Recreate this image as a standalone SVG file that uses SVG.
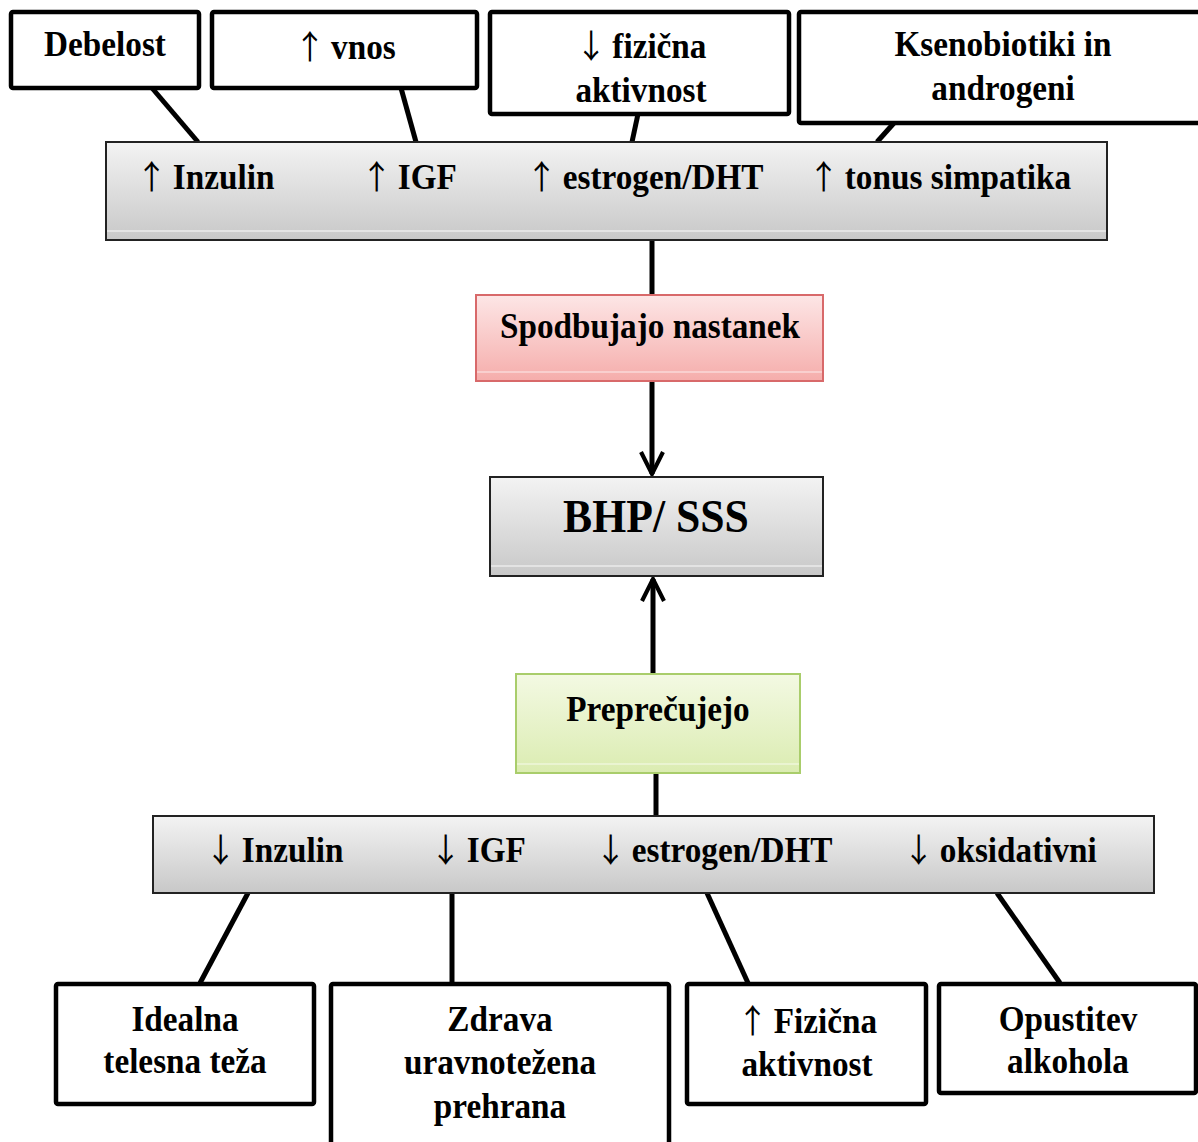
<svg xmlns="http://www.w3.org/2000/svg" width="1198" height="1142" viewBox="0 0 1198 1142">
<defs>
<linearGradient id="gGray" x1="0" y1="0" x2="0" y2="1">
<stop offset="0" stop-color="#f3f3f3"/>
<stop offset="1" stop-color="#c8c8c8"/>
</linearGradient>
<linearGradient id="gPink" x1="0" y1="0" x2="0" y2="1">
<stop offset="0" stop-color="#fde6e6"/>
<stop offset="1" stop-color="#f5adab"/>
</linearGradient>
<linearGradient id="gGreen" x1="0" y1="0" x2="0" y2="1">
<stop offset="0" stop-color="#f3f9e3"/>
<stop offset="1" stop-color="#dbecb1"/>
</linearGradient>
<marker id="chev" viewBox="0 0 10 10" refX="9" refY="5" markerWidth="5.5" markerHeight="5.5" markerUnits="strokeWidth" orient="auto">
<path d="M1,1 L9,5 L1,9" fill="none" stroke="#000" stroke-width="1.5"/>
</marker>
</defs>
<style>
text{font-family:"Liberation Serif","Times New Roman",serif;font-weight:bold;fill:#000;}
.t{font-size:35px;}
.c{text-anchor:middle;}
.box{fill:#fff;stroke:#000;stroke-width:4.5;}
.band{fill:url(#gGray);stroke:#222;stroke-width:2;}
.hl{stroke:#ffffff;stroke-opacity:0.6;stroke-width:1.5;}
.con{stroke:#000;stroke-width:5;fill:none;}
.arr{font-family:"Noto Sans CJK JP","Liberation Serif",sans-serif;font-weight:normal;font-size:33px;}
</style>
<g id="connectors">
<line class="con" x1="152" y1="88" x2="198" y2="142"/>
<line class="con" x1="401" y1="88" x2="416" y2="142"/>
<line class="con" x1="638" y1="114" x2="632" y2="142"/>
<line class="con" x1="894" y1="123" x2="877" y2="142"/>
<line class="con" x1="652" y1="240" x2="652" y2="295"/>
<line class="con" x1="652" y1="381" x2="652" y2="474" marker-end="url(#chev)"/>
<line class="con" x1="653" y1="674" x2="653" y2="579" marker-end="url(#chev)"/>
<line class="con" x1="656" y1="773" x2="656" y2="816"/>
<line class="con" x1="248" y1="893" x2="200" y2="983"/>
<line class="con" x1="452" y1="893" x2="452" y2="983"/>
<line class="con" x1="707" y1="893" x2="748" y2="983"/>
<line class="con" x1="997" y1="893" x2="1060" y2="983"/>
</g>
<g id="debelost">
<rect class="box" x="11" y="12" width="188" height="76" rx="2"/>
<text class="t c" transform="translate(105 56) scale(0.95 1)">Debelost</text>
</g>
<g id="vnos">
<rect class="box" x="212" y="12" width="265" height="76" rx="2"/>
<text class="t c" transform="translate(345 59) scale(0.95 1)"><tspan class="arr">↑</tspan><tspan dx="-3"> vnos</tspan></text>
</g>
<g id="fizicna">
<rect class="box" x="490" y="12" width="299" height="102" rx="2"/>
<text class="t c" transform="translate(641 58) scale(0.95 1)"><tspan class="arr">↓</tspan><tspan dx="-3"> fizična</tspan></text>
<text class="t c" transform="translate(641 102) scale(0.95 1)">aktivnost</text>
</g>
<g id="ksenobiotiki">
<rect class="box" x="799" y="12" width="404" height="111" rx="2"/>
<text class="t c" transform="translate(1003 56) scale(0.95 1)">Ksenobiotiki in</text>
<text class="t c" transform="translate(1003 100) scale(0.95 1)">androgeni</text>
</g>
<g id="top-band">
<rect class="band" x="106" y="142" width="1001" height="98"/>
<line class="hl" x1="107" y1="231" x2="1106" y2="231"/>
<text class="t" transform="translate(136 189) scale(0.95 1)"><tspan class="arr">↑</tspan><tspan dx="-3"> Inzulin</tspan></text>
<text class="t" transform="translate(361 189) scale(0.95 1)"><tspan class="arr">↑</tspan><tspan dx="-3"> IGF</tspan></text>
<text class="t" transform="translate(526 189) scale(0.95 1)"><tspan class="arr">↑</tspan><tspan dx="-3"> estrogen/DHT</tspan></text>
<text class="t" transform="translate(808 189) scale(0.95 1)"><tspan class="arr">↑</tspan><tspan dx="-3"> tonus simpatika</tspan></text>
</g>
<g id="spodbujajo">
<rect x="476" y="295" width="347" height="86" fill="url(#gPink)" stroke="#d8696a" stroke-width="2"/>
<line x1="477" y1="372" x2="822" y2="372" stroke="#fff" stroke-opacity="0.5" stroke-width="1.5"/>
<text class="t c" transform="translate(650 338) scale(0.95 1)">Spodbujajo nastanek</text>
</g>
<g id="bhp">
<rect class="band" x="490" y="477" width="333" height="99"/>
<line class="hl" x1="491" y1="566" x2="822" y2="566"/>
<text class="c" transform="translate(656 532) scale(0.95 1)" font-size="46">BHP/ SSS</text>
</g>
<g id="preprecujejo">
<rect x="516" y="674" width="284" height="99" fill="url(#gGreen)" stroke="#a9cd6b" stroke-width="2"/>
<line x1="517" y1="764" x2="799" y2="764" stroke="#fff" stroke-opacity="0.5" stroke-width="1.5"/>
<text class="t c" transform="translate(658 721) scale(0.95 1)">Preprečujejo</text>
</g>
<g id="bottom-band">
<rect class="band" x="153" y="816" width="1001" height="77"/>
<text class="t" transform="translate(205 862) scale(0.95 1)"><tspan class="arr">↓</tspan><tspan dx="-3"> Inzulin</tspan></text>
<text class="t" transform="translate(430 862) scale(0.95 1)"><tspan class="arr">↓</tspan><tspan dx="-3"> IGF</tspan></text>
<text class="t" transform="translate(595 862) scale(0.95 1)"><tspan class="arr">↓</tspan><tspan dx="-3"> estrogen/DHT</tspan></text>
<text class="t" transform="translate(903 862) scale(0.95 1)"><tspan class="arr">↓</tspan><tspan dx="-3"> oksidativni</tspan></text>
</g>
<g id="idealna">
<rect class="box" x="56" y="984" width="258" height="120" rx="2"/>
<text class="t c" transform="translate(185 1031) scale(0.95 1)">Idealna</text>
<text class="t c" transform="translate(185 1073) scale(0.95 1)">telesna teža</text>
</g>
<g id="zdrava">
<rect class="box" x="331" y="984" width="338" height="170" rx="2"/>
<text class="t c" transform="translate(500 1031) scale(0.95 1)">Zdrava</text>
<text class="t c" transform="translate(500 1074) scale(0.95 1)">uravnotežena</text>
<text class="t c" transform="translate(500 1118) scale(0.95 1)">prehrana</text>
</g>
<g id="fizicna-akt">
<rect class="box" x="687" y="984" width="239" height="120" rx="2"/>
<text class="t c" transform="translate(807 1033) scale(0.95 1)"><tspan class="arr">↑</tspan><tspan dx="-3"> Fizična</tspan></text>
<text class="t c" transform="translate(807 1076) scale(0.95 1)">aktivnost</text>
</g>
<g id="opustitev">
<rect class="box" x="939" y="984" width="257" height="109" rx="2"/>
<text class="t c" transform="translate(1068 1031) scale(0.95 1)">Opustitev</text>
<text class="t c" transform="translate(1068 1073) scale(0.95 1)">alkohola</text>
</g>
</svg>
